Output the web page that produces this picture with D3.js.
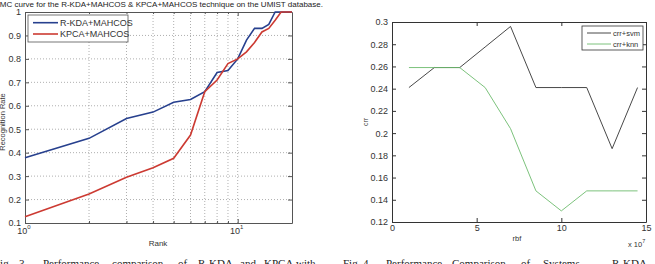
<!DOCTYPE html>
<html>
<head>
<meta charset="utf-8">
<script src="https://cdn.jsdelivr.net/npm/d3@7"></script>
<style>
  body { margin: 0; background: #fff; }
  svg { display: block; font-family: "Liberation Sans", Arial, sans-serif; }
  .cap { font-family: "Liberation Serif", "Times New Roman", serif; font-size: 11px; fill: #222; }
</style>
</head>
<body>
<div id="chart"></div>
<script>
// left panel: CMC curve (log x)
var ranks = [1, 2, 3, 4, 5, 6, 7, 8, 9, 10, 11, 12, 13, 14, 15, 16, 17, 18];
var rkdaRate = [0.378, 0.461, 0.546, 0.573, 0.615, 0.627, 0.66, 0.742, 0.75, 0.80, 0.88, 0.93, 0.93, 0.947, 1, 1, 1, 1];
var kpcaRate = [0.127, 0.224, 0.295, 0.336, 0.376, 0.475, 0.66, 0.71, 0.78, 0.80, 0.83, 0.87, 0.915, 0.93, 0.965, 1, 1, 1];
var rateTicks = [0.1, 0.2, 0.3, 0.4, 0.5, 0.6, 0.7, 0.8, 0.9, 1];
var rankTicks = [1, 2, 3, 4, 5, 6, 7, 8, 9, 10];
var cmcNames = ["R-KDA+MAHCOS", "KPCA+MAHCOS"];

// right panel: crr vs rbf
var rbf = [1, 2.5, 4, 5.5, 7, 8.5, 10, 11.5, 13, 14.5];
var crrSvm = [0.241, 0.259, 0.259, 0.2775, 0.296, 0.241, 0.241, 0.241, 0.186, 0.241];
var crrKnn = [0.259, 0.259, 0.259, 0.241, 0.204, 0.148, 0.13, 0.148, 0.148, 0.148];
var crrTicks = [0.12, 0.14, 0.16, 0.18, 0.2, 0.22, 0.24, 0.26, 0.28, 0.3];
var rbfTicks = [0, 5, 10, 15];
var crrNames = ["crr+svm", "crr+knn"];

var W = 655, H = 264;
var svg = d3.select("#chart").append("svg")
    .attr("width", W)
    .attr("height", H);
svg.append("rect").attr("width", W).attr("height", H).attr("fill", "#fff");

/* ---------------- left chart ---------------- */
var L = {left: 25, right: 292, top: 12, bottom: 223};
var x = d3.scaleLog().domain([1, 18]).range([L.left, L.right]);
var y = d3.scaleLinear().domain([0.1, 1]).range([L.bottom, L.top]);
var g1 = svg.append("g");

// dotted grid
g1.selectAll(".vgrid").data(rankTicks.slice(1)).enter().append("line")
    .attr("x1", d => x(d)).attr("x2", d => x(d))
    .attr("y1", L.top).attr("y2", L.bottom)
    .attr("stroke", "#9a9a9a").attr("stroke-width", 0.8).attr("stroke-dasharray", "1,2");
g1.selectAll(".hgrid").data(rateTicks.slice(1, -1)).enter().append("line")
    .attr("x1", L.left).attr("x2", L.right)
    .attr("y1", d => y(d)).attr("y2", d => y(d))
    .attr("stroke", "#9a9a9a").attr("stroke-width", 0.8).attr("stroke-dasharray", "1,2");

// axes, ticks inward
var yAxisL = d3.axisLeft(y).tickValues(rateTicks).tickSizeInner(-4).tickSizeOuter(0).tickPadding(4)
    .tickFormat(d => d === 1 ? "1" : d3.format(".1f")(d));
var yAxisR = d3.axisRight(y).tickValues(rateTicks).tickSizeInner(-4).tickSizeOuter(0).tickFormat("");
var xAxisB = d3.axisBottom(x).tickValues(rankTicks).tickSizeInner(-4).tickSizeOuter(0).tickFormat("");
var xAxisT = d3.axisTop(x).tickValues(rankTicks).tickSizeInner(-4).tickSizeOuter(0).tickFormat("");

g1.append("g").attr("transform", "translate(" + L.left + ",0)").call(yAxisL);
g1.append("g").attr("transform", "translate(" + L.right + ",0)").call(yAxisR);
g1.append("g").attr("class", "minor").attr("transform", "translate(0," + L.bottom + ")").call(xAxisB);
g1.append("g").attr("class", "minor").attr("transform", "translate(0," + L.top + ")").call(xAxisT);
g1.selectAll(".minor .tick line").attr("y2", function(d) {
    var v = +d3.select(this).attr("y2");
    return (d === 1 || d === 10) ? v : v / 2;
});
g1.selectAll(".domain").attr("stroke", "#555");
g1.selectAll(".tick line").attr("stroke", "#555");
g1.selectAll(".tick text").attr("font-size", 9).attr("fill", "#333");

// decade labels 10^0, 10^1
var dec = g1.selectAll(".dec").data([1, 10]).enter().append("text")
    .attr("x", d => x(d) - 1).attr("y", 234)
    .attr("text-anchor", "middle").attr("font-size", 9).attr("fill", "#333");
dec.append("tspan").text("10");
dec.append("tspan").attr("dy", -5).attr("font-size", 6).text(d => Math.round(Math.log10(d)));

// lines
var line1 = d3.line().x(d => x(d[0])).y(d => y(d[1]));
var cmcData = [d3.zip(ranks, rkdaRate), d3.zip(ranks, kpcaRate)];
var cmcColors = ["#27408e", "#cc3a32"];
g1.selectAll(".cmc").data(cmcData).enter().append("path")
    .attr("d", line1).attr("fill", "none")
    .attr("stroke", (d, i) => cmcColors[i]).attr("stroke-width", 1.6);

// legend
g1.append("rect").attr("x", 28).attr("y", 15).attr("width", 100).attr("height", 27)
    .attr("fill", "#fff").attr("stroke", "#555").attr("stroke-width", 0.8);
cmcNames.forEach(function(n, i) {
    var ly = 22.7 + i * 11.3;
    g1.append("line").attr("x1", 33).attr("x2", 58).attr("y1", ly).attr("y2", ly)
        .attr("stroke", cmcColors[i]).attr("stroke-width", 1.6);
    g1.append("text").attr("x", 60).attr("y", ly + 3.3).attr("font-size", 9).attr("fill", "#333").text(n);
});

// labels
g1.append("text").attr("x", -6).attr("y", 7).attr("font-size", 7.6).attr("fill", "#222")
    .attr("textLength", 329).attr("lengthAdjust", "spacingAndGlyphs")
    .text("CMC curve for the R-KDA+MAHCOS & KPCA+MAHCOS technique on the UMIST database.");
g1.append("text").attr("x", 158).attr("y", 246).attr("text-anchor", "middle")
    .attr("font-size", 8).attr("fill", "#333").text("Rank");
g1.append("text").attr("transform", "translate(5,122) rotate(-90)").attr("text-anchor", "middle")
    .attr("font-size", 7.5).attr("fill", "#333").text("Recognition Rate");

/* ---------------- right chart ---------------- */
var R = {left: 392, right: 646, top: 22, bottom: 222};
var x2 = d3.scaleLinear().domain([0, 15]).range([R.left, R.right]);
var y2 = d3.scaleLinear().domain([0.12, 0.3]).range([R.bottom, R.top]);
var g2 = svg.append("g");

g2.append("g").attr("transform", "translate(" + R.left + ",0)")
    .call(d3.axisLeft(y2).tickValues(crrTicks).tickSizeInner(-4).tickSizeOuter(0).tickPadding(4)
        .tickFormat(d => d3.format(".2~f")(d)));
g2.append("g").attr("transform", "translate(" + R.right + ",0)")
    .call(d3.axisRight(y2).tickValues(crrTicks).tickSizeInner(-4).tickSizeOuter(0).tickFormat(""));
g2.append("g").attr("transform", "translate(0," + R.bottom + ")")
    .call(d3.axisBottom(x2).tickValues(rbfTicks).tickSizeInner(-4).tickSizeOuter(0).tickPadding(3));
g2.append("g").attr("transform", "translate(0," + R.top + ")")
    .call(d3.axisTop(x2).tickValues(rbfTicks).tickSizeInner(-4).tickSizeOuter(0).tickFormat(""));
g2.selectAll(".domain").attr("stroke", "#333");
g2.selectAll(".tick line").attr("stroke", "#333");
g2.selectAll(".tick text").attr("font-size", 9).attr("fill", "#333");

var line2 = d3.line().x(d => x2(d[0])).y(d => y2(d[1]));
var crrData = [d3.zip(rbf, crrSvm), d3.zip(rbf, crrKnn)];
var crrColors = ["#333", "#6dbb6d"];
g2.selectAll(".crr").data(crrData).enter().append("path")
    .attr("d", line2).attr("fill", "none")
    .attr("stroke", (d, i) => crrColors[i]).attr("stroke-width", 0.9);

// legend
g2.append("rect").attr("x", 582).attr("y", 26).attr("width", 61).attr("height", 24)
    .attr("fill", "#fff").attr("stroke", "#333").attr("stroke-width", 0.8);
crrNames.forEach(function(n, i) {
    var ly = 33 + i * 11;
    g2.append("line").attr("x1", 587).attr("x2", 611).attr("y1", ly).attr("y2", ly)
        .attr("stroke", crrColors[i]).attr("stroke-width", 0.9);
    g2.append("text").attr("x", 613).attr("y", ly + 2.6).attr("font-size", 7.5).attr("fill", "#333").text(n);
});

g2.append("text").attr("x", 517).attr("y", 241).attr("text-anchor", "middle")
    .attr("font-size", 7.5).attr("fill", "#333").text("rbf");
var sci = g2.append("text").attr("x", 628).attr("y", 247).attr("font-size", 7.5).attr("fill", "#333");
sci.append("tspan").text("x 10");
sci.append("tspan").attr("dy", -4).attr("font-size", 5.5).text("7");
g2.append("text").attr("transform", "translate(368,122) rotate(-90)").attr("text-anchor", "middle")
    .attr("font-size", 7).attr("fill", "#333").text("crr");

/* captions, cut by the bottom edge */
var cap1 = [["Fig.", -6], ["3.", 19], ["Performance", 43], ["comparison", 112], ["of", 178], ["R-KDA", 198], ["and", 240], ["KPCA", 264], ["with", 296]];
var cap2 = [["Fig.", 343], ["4.", 363], ["Performance", 386], ["Comparison", 452], ["of", 521], ["Systems", 543], ["R-KDA", 612]];
svg.selectAll(".cap").data(cap1.concat(cap2)).enter().append("text")
    .attr("class", "cap").attr("x", d => d[1]).attr("y", 267).text(d => d[0]);
</script>
</body>
</html>
